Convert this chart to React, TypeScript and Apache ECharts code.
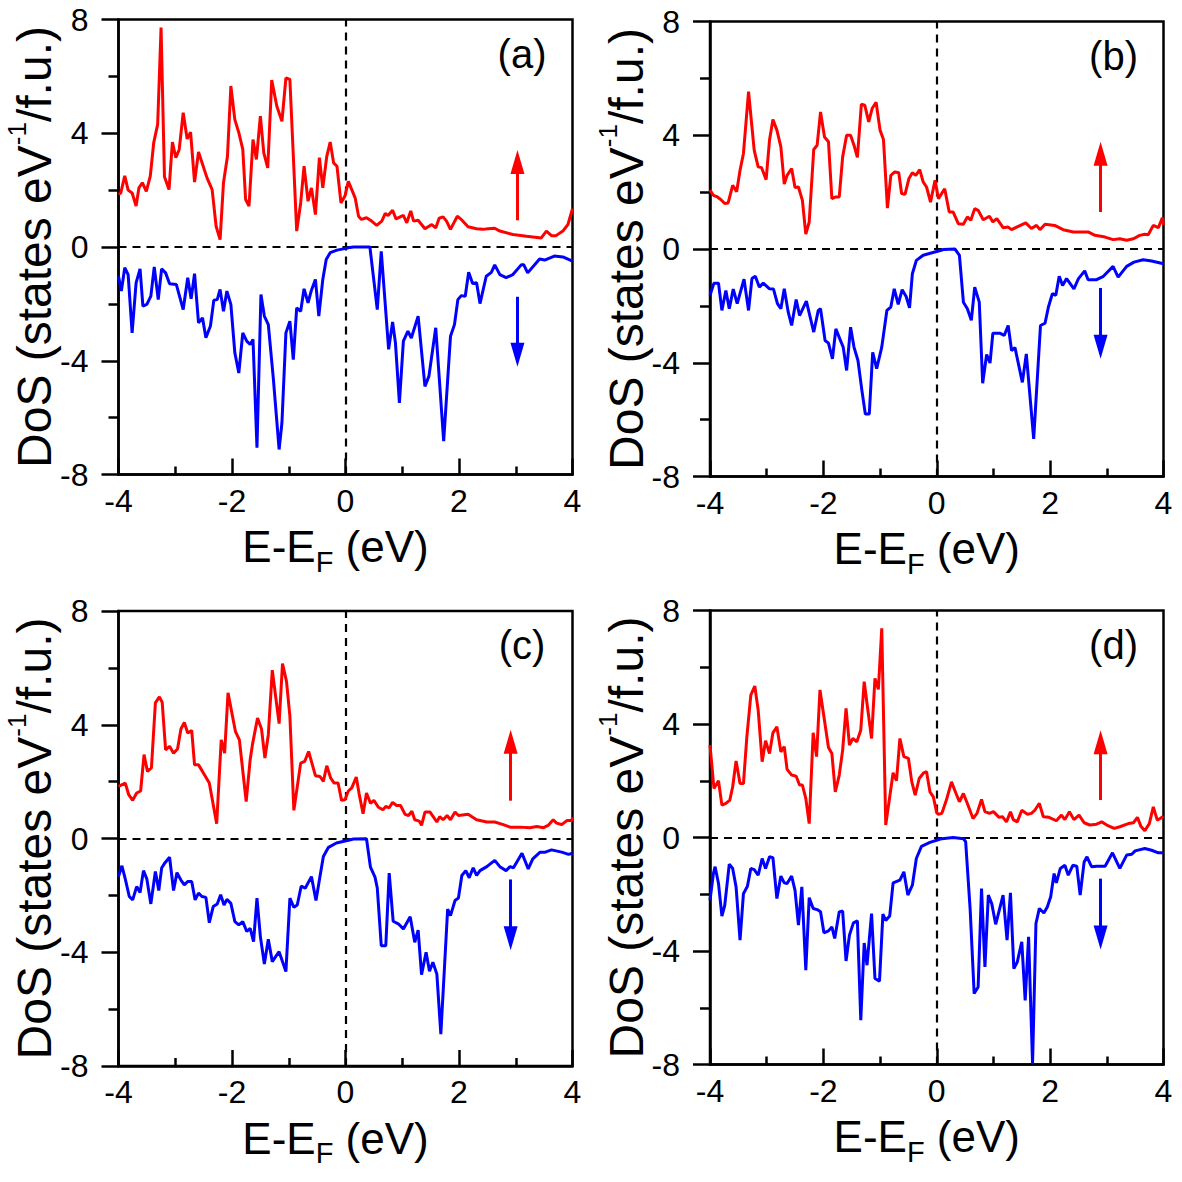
import { useEffect, useRef } from 'react';
import * as echarts from 'echarts';

const FONT = '"Liberation Sans", Arial, Helvetica, sans-serif';

// ---- data: [E - E_F (eV), DoS (states/eV/f.u.)] ----
const upA: number[][] = [[-4.00,1.85],[-3.96,1.90],[-3.89,2.50],[-3.83,2.00],[-3.76,1.90],[-3.69,1.44],[-3.64,2.08],[-3.58,2.26],[-3.51,1.96],[-3.44,2.49],[-3.38,3.66],[-3.31,4.31],[-3.25,7.72],[-3.19,2.47],[-3.11,2.02],[-3.05,3.69],[-2.99,3.14],[-2.93,3.43],[-2.86,4.72],[-2.79,3.80],[-2.73,4.04],[-2.66,2.28],[-2.59,3.34],[-2.44,2.43],[-2.35,2.02],[-2.28,0.73],[-2.21,0.26],[-2.15,2.26],[-2.08,3.19],[-2.02,5.66],[-1.95,4.48],[-1.88,4.02],[-1.81,3.43],[-1.76,1.67],[-1.70,1.44],[-1.63,3.78],[-1.57,3.08],[-1.50,4.60],[-1.44,3.31],[-1.37,2.78],[-1.30,5.87],[-1.21,4.95],[-1.12,4.42],[-1.05,5.95],[-0.98,5.89],[-0.86,0.56],[-0.79,1.55],[-0.73,2.84],[-0.66,1.61],[-0.60,2.08],[-0.53,1.14],[-0.46,3.14],[-0.40,2.08],[-0.33,3.19],[-0.27,3.69],[-0.21,2.96],[-0.15,2.84],[-0.08,1.55],[-0.01,1.79],[0.05,2.31],[0.17,1.73],[0.23,1.08],[0.28,0.97],[0.37,1.03],[0.46,0.91],[0.55,0.76],[0.64,0.91],[0.70,1.18],[0.75,1.11],[0.83,1.29],[0.89,0.99],[1.02,1.11],[1.08,0.85],[1.15,1.27],[1.20,0.91],[1.28,0.94],[1.40,0.64],[1.52,0.79],[1.59,0.67],[1.65,1.01],[1.72,1.06],[1.78,0.91],[1.85,0.62],[1.97,1.08],[2.04,0.97],[2.16,0.71],[2.31,0.64],[2.42,0.62],[2.51,0.64],[2.63,0.66],[2.72,0.56],[2.95,0.44],[3.19,0.38],[3.45,0.32],[3.54,0.56],[3.63,0.40],[3.71,0.40],[3.83,0.56],[3.92,0.79],[4.00,1.35]];
const downA: number[][] = [[-4.00,-1.03],[-3.95,-1.55],[-3.89,-0.73],[-3.83,-0.97],[-3.76,-3.02],[-3.69,-1.26],[-3.62,-0.77],[-3.57,-2.08],[-3.50,-2.02],[-3.43,-1.73],[-3.37,-0.70],[-3.30,-1.85],[-3.24,-0.77],[-3.17,-0.91],[-3.10,-1.29],[-2.98,-1.32],[-2.86,-2.20],[-2.78,-1.08],[-2.72,-1.82],[-2.66,-0.94],[-2.59,-2.67],[-2.52,-2.49],[-2.46,-3.19],[-2.38,-2.78],[-2.32,-1.87],[-2.26,-1.85],[-2.21,-1.49],[-2.15,-2.26],[-2.09,-1.55],[-2.02,-2.02],[-1.95,-3.72],[-1.88,-4.43],[-1.81,-3.02],[-1.74,-3.31],[-1.68,-3.43],[-1.63,-3.25],[-1.56,-7.06],[-1.49,-1.67],[-1.43,-2.43],[-1.36,-2.73],[-1.27,-4.66],[-1.17,-7.12],[-1.12,-6.18],[-1.05,-3.02],[-0.98,-2.61],[-0.92,-3.96],[-0.86,-2.14],[-0.79,-2.26],[-0.73,-1.47],[-0.66,-1.96],[-0.60,-1.52],[-0.53,-1.14],[-0.47,-2.43],[-0.40,-1.14],[-0.34,-0.44],[-0.27,-0.20],[-0.15,-0.11],[0.05,-0.03],[0.14,0.0],[0.43,0.0],[0.56,-2.20],[0.63,-0.15],[0.76,-3.60],[0.83,-2.64],[0.88,-3.37],[0.95,-5.48],[1.02,-3.31],[1.10,-2.96],[1.16,-3.20],[1.28,-2.43],[1.40,-4.90],[1.47,-4.54],[1.59,-2.84],[1.73,-6.83],[1.85,-3.14],[1.92,-2.73],[1.98,-1.85],[2.04,-1.71],[2.11,-1.73],[2.17,-0.89],[2.24,-1.28],[2.31,-1.26],[2.37,-1.99],[2.48,-1.03],[2.57,-0.89],[2.63,-0.63],[2.72,-0.97],[2.83,-1.08],[2.95,-0.97],[3.10,-0.62],[3.14,-0.62],[3.21,-0.91],[3.42,-0.42],[3.51,-0.46],[3.68,-0.32],[3.83,-0.35],[4.00,-0.50]];

const upB: number[][] = [[-4.00,2.07],[-3.94,1.89],[-3.87,1.83],[-3.81,1.74],[-3.74,1.60],[-3.68,1.62],[-3.60,2.24],[-3.53,2.01],[-3.47,2.77],[-3.41,3.36],[-3.32,5.53],[-3.22,3.47],[-3.15,2.89],[-3.09,2.86],[-3.01,2.44],[-2.95,3.83],[-2.89,4.55],[-2.82,4.18],[-2.75,3.59],[-2.69,2.28],[-2.64,2.59],[-2.56,2.83],[-2.50,2.16],[-2.44,2.18],[-2.37,1.71],[-2.31,0.52],[-2.25,0.95],[-2.17,3.50],[-2.11,3.65],[-2.05,4.82],[-1.98,3.94],[-1.91,3.77],[-1.85,1.77],[-1.78,1.83],[-1.72,1.83],[-1.66,3.24],[-1.59,4.00],[-1.52,4.00],[-1.46,3.65],[-1.40,3.22],[-1.33,5.09],[-1.27,5.06],[-1.20,4.47],[-1.14,4.94],[-1.07,5.16],[-1.00,4.18],[-0.94,3.85],[-0.87,1.44],[-0.81,2.59],[-0.74,2.71],[-0.67,2.68],[-0.62,1.95],[-0.56,1.92],[-0.49,2.48],[-0.43,2.68],[-0.37,2.59],[-0.30,2.79],[-0.24,2.36],[-0.18,2.18],[-0.11,1.65],[-0.03,2.42],[0.03,1.77],[0.14,2.12],[0.22,1.30],[0.29,1.30],[0.38,0.89],[0.47,0.87],[0.54,1.13],[0.60,1.01],[0.67,1.42],[0.73,1.36],[0.82,1.03],[0.93,1.15],[0.99,0.95],[1.06,1.07],[1.17,0.75],[1.26,0.77],[1.32,0.68],[1.41,0.77],[1.57,0.92],[1.67,0.72],[1.76,0.83],[1.82,0.68],[1.91,0.87],[2.08,0.83],[2.23,0.68],[2.41,0.60],[2.67,0.60],[2.79,0.48],[2.97,0.42],[3.11,0.33],[3.23,0.36],[3.35,0.31],[3.47,0.36],[3.58,0.48],[3.67,0.52],[3.73,0.50],[3.82,0.83],[3.91,0.75],[3.98,1.10],[4.00,0.85]];
const downB: number[][] = [[-4.00,-1.63],[-3.93,-1.20],[-3.85,-1.20],[-3.79,-2.16],[-3.72,-1.46],[-3.66,-2.10],[-3.59,-1.41],[-3.52,-1.92],[-3.40,-1.06],[-3.32,-2.16],[-3.26,-1.04],[-3.20,-0.96],[-3.13,-1.34],[-3.06,-1.20],[-2.95,-1.40],[-2.88,-1.41],[-2.81,-1.92],[-2.75,-2.10],[-2.69,-1.40],[-2.62,-2.22],[-2.56,-2.69],[-2.48,-1.78],[-2.42,-2.34],[-2.30,-1.83],[-2.17,-2.92],[-2.09,-2.16],[-2.05,-2.10],[-1.97,-3.22],[-1.91,-3.31],[-1.84,-3.86],[-1.78,-2.81],[-1.71,-3.16],[-1.65,-3.45],[-1.59,-4.27],[-1.52,-2.75],[-1.46,-3.45],[-1.39,-3.92],[-1.32,-4.98],[-1.26,-5.80],[-1.19,-5.80],[-1.13,-3.63],[-1.06,-4.21],[-0.97,-3.45],[-0.88,-2.16],[-0.81,-2.04],[-0.75,-1.40],[-0.68,-1.95],[-0.61,-1.43],[-0.54,-1.67],[-0.48,-2.07],[-0.43,-0.87],[-0.36,-0.40],[-0.24,-0.22],[0.03,-0.07],[0.12,-0.02],[0.32,0.0],[0.40,-0.22],[0.47,-1.87],[0.54,-2.10],[0.61,-2.51],[0.67,-1.34],[0.75,-1.87],[0.81,-4.72],[0.88,-3.71],[0.94,-4.01],[0.99,-2.96],[1.11,-2.96],[1.19,-3.04],[1.26,-2.69],[1.32,-3.57],[1.38,-3.47],[1.51,-4.69],[1.58,-3.69],[1.71,-6.68],[1.83,-2.69],[1.91,-2.61],[1.97,-2.04],[2.04,-1.57],[2.10,-1.63],[2.16,-0.96],[2.22,-1.28],[2.29,-1.04],[2.42,-1.40],[2.50,-1.04],[2.61,-0.77],[2.67,-1.08],[2.82,-1.08],[2.94,-0.96],[3.11,-0.61],[3.20,-0.99],[3.35,-0.61],[3.48,-0.46],[3.64,-0.38],[3.79,-0.42],[4.00,-0.52]];

const upC: number[][] = [[-4.00,1.83],[-3.88,1.95],[-3.82,1.54],[-3.75,1.34],[-3.68,1.60],[-3.61,1.67],[-3.55,2.95],[-3.49,2.36],[-3.42,2.48],[-3.35,4.77],[-3.28,4.98],[-3.23,4.79],[-3.17,3.12],[-3.10,3.24],[-3.03,3.00],[-2.96,3.15],[-2.90,3.85],[-2.84,4.08],[-2.78,3.71],[-2.71,3.80],[-2.66,2.59],[-2.59,2.59],[-2.52,2.36],[-2.40,1.95],[-2.27,0.52],[-2.19,3.47],[-2.13,3.00],[-2.07,5.12],[-1.94,3.77],[-1.87,3.47],[-1.75,1.30],[-1.68,2.77],[-1.64,3.30],[-1.55,4.24],[-1.48,3.85],[-1.42,2.83],[-1.36,3.65],[-1.29,5.92],[-1.17,4.04],[-1.11,6.15],[-1.04,5.53],[-0.98,4.30],[-0.91,0.99],[-0.79,2.65],[-0.72,2.71],[-0.65,3.06],[-0.53,2.21],[-0.45,2.18],[-0.39,2.01],[-0.33,2.56],[-0.26,2.12],[-0.20,1.95],[-0.13,1.95],[-0.07,1.34],[-0.01,1.36],[0.05,1.67],[0.11,1.78],[0.19,2.16],[0.24,1.57],[0.31,0.87],[0.37,1.60],[0.44,1.24],[0.50,1.34],[0.58,1.10],[0.66,1.01],[0.71,1.13],[0.77,1.08],[0.83,1.27],[0.90,1.16],[0.97,1.16],[1.05,0.85],[1.11,0.81],[1.17,0.96],[1.22,0.66],[1.30,0.61],[1.34,0.46],[1.40,0.93],[1.49,0.93],[1.61,0.58],[1.66,0.77],[1.72,0.66],[1.79,0.81],[1.85,0.66],[1.93,0.93],[1.99,0.81],[2.16,0.85],[2.31,0.66],[2.49,0.58],[2.63,0.58],[2.78,0.49],[2.90,0.40],[3.08,0.40],[3.25,0.38],[3.37,0.42],[3.49,0.38],[3.57,0.46],[3.66,0.66],[3.72,0.54],[3.81,0.49],[3.90,0.63],[3.99,0.63],[4.00,0.75]];
const downC: number[][] = [[-4.00,-1.34],[-3.94,-0.96],[-3.88,-1.43],[-3.81,-2.04],[-3.75,-2.16],[-3.68,-1.69],[-3.62,-1.90],[-3.56,-1.13],[-3.50,-1.43],[-3.43,-2.30],[-3.35,-1.16],[-3.29,-1.83],[-3.24,-1.04],[-3.18,-0.85],[-3.10,-0.66],[-3.03,-1.83],[-2.97,-1.20],[-2.90,-1.46],[-2.84,-1.63],[-2.78,-1.51],[-2.71,-1.51],[-2.65,-2.16],[-2.59,-1.92],[-2.53,-2.04],[-2.46,-2.07],[-2.40,-2.96],[-2.33,-2.39],[-2.26,-2.30],[-2.20,-1.98],[-2.14,-2.34],[-2.09,-2.14],[-2.02,-2.28],[-1.95,-2.92],[-1.88,-3.04],[-1.81,-2.92],[-1.74,-3.27],[-1.68,-3.16],[-1.62,-3.63],[-1.56,-2.10],[-1.50,-3.45],[-1.43,-4.41],[-1.36,-3.54],[-1.29,-4.33],[-1.17,-3.98],[-1.05,-4.68],[-0.98,-2.10],[-0.91,-2.42],[-0.85,-2.34],[-0.78,-1.67],[-0.71,-1.75],[-0.60,-1.34],[-0.52,-2.18],[-0.45,-1.34],[-0.39,-0.63],[-0.30,-0.31],[-0.16,-0.16],[0.07,-0.05],[0.14,-0.02],[0.37,-0.01],[0.44,-1.01],[0.52,-1.36],[0.56,-1.74],[0.63,-3.77],[0.71,-3.77],[0.77,-1.22],[0.84,-2.91],[0.93,-3.00],[1.02,-3.18],[1.14,-2.75],[1.22,-3.65],[1.28,-3.22],[1.34,-4.79],[1.42,-4.00],[1.48,-4.67],[1.54,-4.35],[1.61,-4.77],[1.68,-6.88],[1.80,-2.48],[1.85,-2.71],[1.93,-2.18],[1.99,-2.09],[2.05,-1.30],[2.12,-1.13],[2.18,-1.38],[2.25,-1.03],[2.31,-1.30],[2.37,-1.13],[2.49,-0.99],[2.63,-0.77],[2.72,-0.99],[2.83,-1.13],[2.90,-0.99],[2.96,-1.03],[3.11,-0.52],[3.22,-1.07],[3.30,-0.72],[3.43,-0.48],[3.52,-0.48],[3.63,-0.40],[3.81,-0.48],[3.93,-0.56],[4.00,-0.52]];

const upD: number[][] = [[-4.00,3.26],[-3.93,1.73],[-3.85,2.00],[-3.79,1.14],[-3.72,1.20],[-3.65,1.32],[-3.60,1.79],[-3.54,2.70],[-3.47,1.90],[-3.41,1.90],[-3.35,3.55],[-3.28,5.02],[-3.21,5.34],[-3.15,4.49],[-3.08,2.67],[-3.02,3.41],[-2.95,2.96],[-2.89,3.69],[-2.82,3.90],[-2.75,3.02],[-2.69,3.20],[-2.64,2.40],[-2.56,2.20],[-2.48,2.16],[-2.42,1.85],[-2.37,1.85],[-2.31,1.38],[-2.25,0.49],[-2.18,3.69],[-2.12,2.85],[-2.06,5.20],[-1.91,3.17],[-1.85,2.96],[-1.79,1.61],[-1.72,2.20],[-1.66,3.08],[-1.60,4.55],[-1.54,3.26],[-1.48,3.49],[-1.41,3.37],[-1.34,3.79],[-1.28,5.49],[-1.15,3.49],[-1.09,5.61],[-1.03,5.22],[-0.97,7.37],[-0.90,0.44],[-0.83,1.43],[-0.77,2.28],[-0.71,2.00],[-0.65,3.49],[-0.58,2.85],[-0.50,2.79],[-0.44,1.96],[-0.38,1.49],[-0.31,2.08],[-0.23,2.28],[-0.18,2.32],[-0.12,1.61],[-0.06,1.43],[0.00,0.87],[0.03,0.82],[0.09,0.85],[0.17,1.32],[0.26,1.96],[0.34,1.55],[0.40,1.26],[0.47,1.55],[0.54,1.20],[0.64,0.67],[0.71,0.85],[0.79,1.34],[0.85,0.91],[0.93,0.85],[1.00,0.91],[1.10,0.71],[1.16,0.73],[1.23,0.55],[1.30,0.91],[1.35,0.63],[1.42,0.55],[1.50,0.96],[1.60,0.82],[1.67,0.85],[1.73,0.96],[1.81,1.20],[1.88,0.73],[1.98,0.71],[2.11,0.59],[2.20,0.79],[2.26,0.63],[2.34,0.91],[2.42,0.63],[2.51,0.79],[2.60,0.52],[2.70,0.44],[2.82,0.47],[2.91,0.55],[3.00,0.44],[3.13,0.32],[3.23,0.38],[3.38,0.49],[3.47,0.52],[3.54,0.71],[3.60,0.40],[3.67,0.24],[3.75,0.49],[3.82,1.08],[3.89,0.61],[3.94,0.67],[4.00,0.75]];
const downD: number[][] = [[-4.00,-2.21],[-3.94,-1.27],[-3.91,-1.03],[-3.85,-1.62],[-3.79,-2.77],[-3.74,-2.39],[-3.66,-0.94],[-3.60,-1.09],[-3.54,-1.74],[-3.47,-3.62],[-3.41,-1.98],[-3.34,-1.72],[-3.28,-1.09],[-3.22,-1.13],[-3.15,-1.33],[-3.08,-0.74],[-3.02,-1.09],[-2.95,-0.68],[-2.89,-0.71],[-2.82,-2.15],[-2.75,-1.36],[-2.69,-1.60],[-2.64,-1.62],[-2.56,-1.36],[-2.50,-1.86],[-2.44,-3.09],[-2.38,-1.74],[-2.31,-4.68],[-2.25,-2.12],[-2.18,-2.50],[-2.11,-2.54],[-2.05,-2.62],[-1.99,-3.36],[-1.91,-3.29],[-1.85,-3.15],[-1.80,-3.56],[-1.72,-2.62],[-1.66,-2.59],[-1.60,-4.35],[-1.54,-3.44],[-1.47,-3.01],[-1.40,-2.94],[-1.34,-6.44],[-1.28,-3.72],[-1.23,-4.50],[-1.15,-2.68],[-1.09,-4.97],[-1.01,-5.06],[-0.95,-2.70],[-0.90,-2.92],[-0.83,-2.77],[-0.77,-1.60],[-0.65,-1.50],[-0.58,-1.21],[-0.51,-2.03],[-0.43,-1.68],[-0.36,-0.74],[-0.27,-0.31],[-0.12,-0.17],[0.04,-0.07],[0.09,-0.04],[0.29,0.00],[0.47,-0.04],[0.51,-0.15],[0.59,-2.56],[0.66,-5.50],[0.73,-5.27],[0.79,-1.80],[0.85,-4.56],[0.91,-2.03],[0.97,-2.33],[1.04,-3.06],[1.17,-2.03],[1.24,-3.62],[1.30,-1.95],[1.36,-4.62],[1.42,-4.39],[1.50,-3.68],[1.56,-5.74],[1.62,-3.50],[1.69,-7.97],[1.75,-3.03],[1.81,-2.50],[1.89,-2.66],[1.95,-2.45],[2.01,-2.09],[2.07,-1.27],[2.11,-1.60],[2.18,-1.09],[2.26,-0.98],[2.32,-1.33],[2.40,-0.98],[2.47,-1.01],[2.53,-2.03],[2.60,-0.86],[2.65,-0.68],[2.73,-1.03],[2.82,-1.01],[2.97,-1.01],[3.10,-0.54],[3.23,-1.09],[3.35,-0.62],[3.44,-0.59],[3.50,-0.47],[3.67,-0.39],[3.79,-0.45],[3.91,-0.54],[4.00,-0.54]];

const panelLabels = ['(a)', '(b)', '(c)', '(d)'];
const spinUp = [upA, upB, upC, upD];
const spinDown = [downA, downB, downC, downD];

// spin arrows (data units): x position, tail value, tip value
const arrowX = [3.03, 2.89, 2.91, 2.89];
const upArrowTail = [0.94, 1.30, 1.33, 1.32];
const upArrowTip = [3.41, 3.77, 3.82, 3.78];
const downArrowTail = [-1.75, -1.37, -1.44, -1.45];
const downArrowTip = [-4.21, -3.86, -3.93, -3.95];

const xMin = -4, xMax = 4, xStep = 2;
const yMin = -8, yMax = 8, yStep = 4;

// ---- layout ----
const grids = [
  { left: 118.5, top: 19.5, width: 454, height: 455 },
  { left: 710, top: 21.5, width: 453.5, height: 455 },
  { left: 118.5, top: 611, width: 454, height: 455 },
  { left: 710, top: 610.5, width: 453.5, height: 454 },
];
const RED = '#ff0000';
const BLUE = '#0000ff';
const HEAD_LEN = 24;
const HEAD_W = 14;

export default function App() {
  const ref = useRef<HTMLDivElement>(null);
  useEffect(() => {
    if (!ref.current) return;
    const chart = echarts.init(ref.current, null, { renderer: 'svg' });
    const axisLineStyle = { color: '#000', width: 2.5 };
    const dashed = { color: '#000', width: 2.2, type: [8, 6] as any };
    const unitPx = (g: any) => g.height / (yMax - yMin);

    const xAxes = grids.map((g, i) => ({
      type: 'value', gridIndex: i, min: xMin, max: xMax, interval: xStep,
      axisLine: { show: true, onZero: false, lineStyle: axisLineStyle },
      axisTick: { show: true, inside: true, length: 16, lineStyle: axisLineStyle },
      minorTick: { show: true, splitNumber: 2, length: 8, lineStyle: axisLineStyle },
      splitLine: { show: false }, minorSplitLine: { show: false },
      axisLabel: { color: '#000', fontSize: 32, fontFamily: FONT, margin: 10 },
      name: 'E-E{sub|F} (eV)', nameLocation: 'middle', nameGap: 50, nameMoveOverlap: false,
      nameTextStyle: {
        color: '#000', fontSize: 44, fontFamily: FONT, lineHeight: 44, padding: [0, 20, 0, 0],
        rich: { sub: { color: '#000', fontSize: 29, fontFamily: FONT, lineHeight: 14, height: 14, verticalAlign: 'bottom' } },
      },
    }));
    const yAxes = grids.map((g, i) => ({
      type: 'value', gridIndex: i, min: yMin, max: yMax, interval: yStep,
      axisLine: { show: true, onZero: false, lineStyle: axisLineStyle },
      axisTick: { show: true, inside: false, length: 17, lineStyle: axisLineStyle },
      minorTick: { show: true, splitNumber: 2, length: 10, lineStyle: axisLineStyle },
      splitLine: { show: false }, minorSplitLine: { show: false },
      axisLabel: { color: '#000', fontSize: 32, fontFamily: FONT, margin: 30 },
      name: 'DoS (states eV{sup|-1}/f.u.)', nameLocation: 'middle', nameRotate: 90, nameGap: 60, nameMoveOverlap: false,
      nameTextStyle: {
        color: '#000', fontSize: 48, fontFamily: FONT, lineHeight: 48,
        rich: { sup: { color: '#000', fontSize: 26, fontFamily: FONT, lineHeight: 12, height: 12, verticalAlign: 'top' } },
      },
    }));

    const series: any[] = [];
    grids.forEach((g, i) => {
      const half = HEAD_LEN / 2 / unitPx(g);
      series.push({
        type: 'line', xAxisIndex: i, yAxisIndex: i, data: spinUp[i],
        showSymbol: false, symbol: 'none', z: 3,
        lineStyle: { color: RED, width: 3 }, itemStyle: { color: RED },
        markLine: {
          silent: true, symbol: ['none', 'none'], label: { show: false }, z: 2,
          data: [
            { yAxis: 0, lineStyle: dashed },
            { xAxis: 0, lineStyle: dashed },
            [
              { coord: [arrowX[i], upArrowTail[i]], symbol: 'none', lineStyle: { color: RED, width: 3, type: 'solid' } },
              { coord: [arrowX[i], upArrowTip[i] - half], symbol: 'triangle', symbolSize: [HEAD_W, HEAD_LEN] },
            ],
          ],
        },
      });
      series.push({
        type: 'line', xAxisIndex: i, yAxisIndex: i, data: spinDown[i],
        showSymbol: false, symbol: 'none', z: 3,
        lineStyle: { color: BLUE, width: 3 }, itemStyle: { color: BLUE },
        markLine: {
          silent: true, symbol: ['none', 'none'], label: { show: false },
          data: [
            [
              { coord: [arrowX[i], downArrowTail[i]], symbol: 'none', lineStyle: { color: BLUE, width: 3, type: 'solid' } },
              { coord: [arrowX[i], downArrowTip[i] + half], symbol: 'triangle', symbolSize: [HEAD_W, HEAD_LEN] },
            ],
          ],
        },
      });
    });

    chart.setOption({
      animation: false,
      backgroundColor: '#fff',
      grid: grids.map((g) => ({
        ...g, show: true, borderColor: '#000', borderWidth: 2.5, backgroundColor: 'transparent',
        containLabel: false, outerBoundsMode: 'none',
      })),
      xAxis: xAxes,
      yAxis: yAxes,
      series,
      graphic: grids.map((g, i) => ({
        type: 'text', x: g.left + 403.5, y: g.top + 34,
        style: { text: panelLabels[i], fontSize: 40, fontFamily: FONT, fill: '#000', align: 'center', verticalAlign: 'middle' },
      })),
    });
    return () => chart.dispose();
  }, []);
  return <div ref={ref} style={{ position: 'absolute', left: 0, top: 0, width: 1182, height: 1182, background: '#fff' }} />;
}
